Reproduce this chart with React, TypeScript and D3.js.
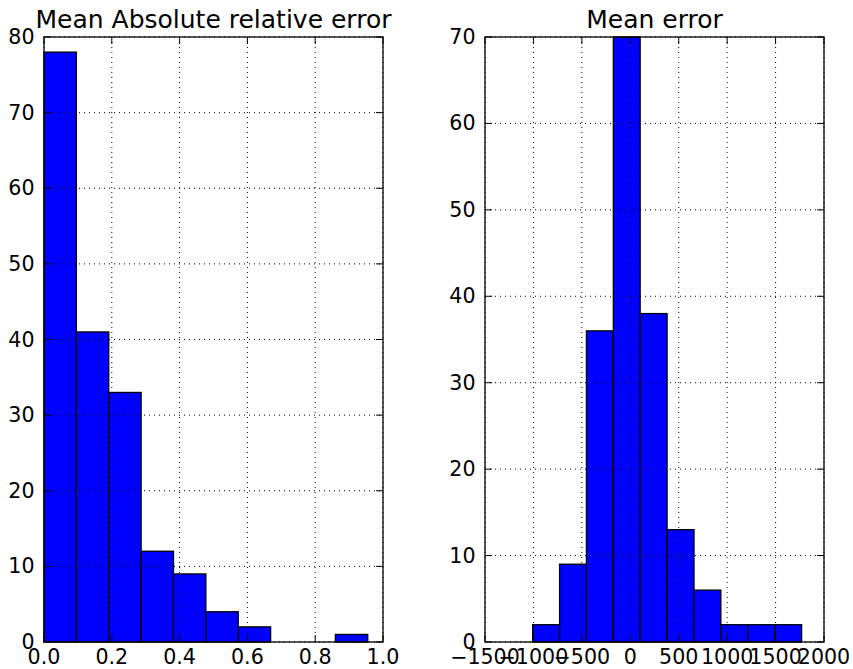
import React from "react";
import * as d3 from "d3";

const W = 853;
const H = 669;

// Left histogram: Mean Absolute relative error
const relTitle = "Mean Absolute relative error";
const relBinEdges = [0, 0.0955, 0.191, 0.2865, 0.382, 0.4775, 0.573, 0.6685, 0.764, 0.8595, 0.955];
const relCounts = [78, 41, 33, 12, 9, 4, 2, 0, 0, 1];
const relXTicks = [0, 0.2, 0.4, 0.6, 0.8, 1.0];
const relXTickLabels = ["0.0", "0.2", "0.4", "0.6", "0.8", "1.0"];
const relYTicks = [0, 10, 20, 30, 40, 50, 60, 70, 80];
const relXDomain = [0, 1.0];
const relYDomain = [0, 80];

// Right histogram: Mean error
const errTitle = "Mean error";
const errBinEdges = [-1008, -730, -453, -175, 102, 380, 658, 935, 1213, 1491, 1769];
const errCounts = [2, 9, 36, 70, 38, 13, 6, 2, 2, 2];
const errXTicks = [-1500, -1000, -500, 0, 500, 1000, 1500, 2000];
const errXTickLabels = ["\u22121500", "\u22121000", "\u2212500", "0", "500", "1000", "1500", "2000"];
const errYTicks = [0, 10, 20, 30, 40, 50, 60, 70];
const errXDomain = [-1500, 2000];
const errYDomain = [0, 70];

const FONT = "DejaVu Sans, sans-serif";
const TICK_FS = 20.6;
const TITLE_FS = 25;

type PanelProps = {
  x0: number;
  x1: number;
  y0: number;
  y1: number;
  title: string;
  edges: number[];
  counts: number[];
  xTicks: number[];
  xTickLabels: string[];
  yTicks: number[];
  xDomain: number[];
  yDomain: number[];
};

function Panel(p: PanelProps) {
  const x = d3.scaleLinear().domain(p.xDomain).range([p.x0, p.x1]);
  const y = d3.scaleLinear().domain(p.yDomain).range([p.y1, p.y0]);
  const tl = 7;
  return (
    <g>
      {/* bars */}
      {p.counts.map((c, i) =>
        c > 0 ? (
          <rect
            key={"b" + i}
            x={x(p.edges[i])}
            y={y(c)}
            width={x(p.edges[i + 1]) - x(p.edges[i])}
            height={y(0) - y(c)}
            fill="#0000ff"
            stroke="#000"
            strokeWidth={1.3}
          />
        ) : null
      )}
      {/* grid */}
      {p.xTicks.map((t, i) => (
        <line key={"gx" + i} x1={x(t)} x2={x(t)} y1={p.y0} y2={p.y1} stroke="#000" strokeWidth={1} strokeDasharray="1,4" />
      ))}
      {p.yTicks.map((t, i) => (
        <line key={"gy" + i} x1={p.x0} x2={p.x1} y1={y(t)} y2={y(t)} stroke="#000" strokeWidth={1} strokeDasharray="1,4" />
      ))}
      {/* ticks */}
      {p.xTicks.map((t, i) => (
        <g key={"tx" + i}>
          <line x1={x(t)} x2={x(t)} y1={p.y1} y2={p.y1 - tl} stroke="#000" strokeWidth={1} />
          <line x1={x(t)} x2={x(t)} y1={p.y0} y2={p.y0 + tl} stroke="#000" strokeWidth={1} />
        </g>
      ))}
      {p.yTicks.map((t, i) => (
        <g key={"ty" + i}>
          <line x1={p.x0} x2={p.x0 + tl} y1={y(t)} y2={y(t)} stroke="#000" strokeWidth={1} />
          <line x1={p.x1} x2={p.x1 - tl} y1={y(t)} y2={y(t)} stroke="#000" strokeWidth={1} />
        </g>
      ))}
      {/* frame */}
      <rect x={p.x0} y={p.y0} width={p.x1 - p.x0} height={p.y1 - p.y0} fill="none" stroke="#000" strokeWidth={1.3} />
      {/* tick labels */}
      {p.xTicks.map((t, i) => (
        <text key={"lx" + i} x={x(t)} y={p.y1 + 21.5} textAnchor="middle" fontFamily={FONT} fontSize={TICK_FS} fill="#000">
          {p.xTickLabels[i]}
        </text>
      ))}
      {p.yTicks.map((t, i) => (
        <text key={"ly" + i} x={p.x0 - 9.5} y={y(t)} textAnchor="end" dominantBaseline="central" fontFamily={FONT} fontSize={TICK_FS} fill="#000">
          {String(t)}
        </text>
      ))}
      {/* title */}
      <text x={(p.x0 + p.x1) / 2} y={28} textAnchor="middle" fontFamily={FONT} fontSize={TITLE_FS} fill="#000">
        {p.title}
      </text>
    </g>
  );
}

export default function App() {
  return (
    <svg width={W} height={H} style={{ position: "absolute", left: 0, top: 0, background: "#fff" }}>
      <rect x={0} y={0} width={W} height={H} fill="#fff" />
      <Panel
        x0={44}
        x1={383}
        y0={37}
        y1={642}
        title={relTitle}
        edges={relBinEdges}
        counts={relCounts}
        xTicks={relXTicks}
        xTickLabels={relXTickLabels}
        yTicks={relYTicks}
        xDomain={relXDomain}
        yDomain={relYDomain}
      />
      <Panel
        x0={485}
        x1={824}
        y0={37}
        y1={642}
        title={errTitle}
        edges={errBinEdges}
        counts={errCounts}
        xTicks={errXTicks}
        xTickLabels={errXTickLabels}
        yTicks={errYTicks}
        xDomain={errXDomain}
        yDomain={errYDomain}
      />
    </svg>
  );
}
